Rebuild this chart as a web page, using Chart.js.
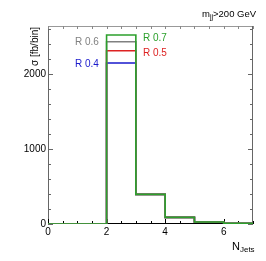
<!DOCTYPE html>
<html>
<head>
<meta charset="utf-8">
<script src="https://cdn.jsdelivr.net/npm/chart.js@4"></script>
<style>
  body { margin: 0; background: #fff; }
  #wrap { width: 266px; height: 261px; }
</style>
</head>
<body>
<div id="wrap"><canvas id="chartCanvas" width="266" height="261"></canvas></div>
<script>
// bin edges of N_jets and cross sections per bin [fb/bin]
const binEdges = [0, 1, 2, 3, 4, 5, 6, 7];
const r07 = [0, 0, 2520, 395, 88, 27, 8];
const r06 = [0, 0, 2431, 395, 88, 27, 8];
const r05 = [0, 0, 2311, 395, 88, 27, 8];
const r04 = [0, 0, 2147, 395, 88, 27, 8];
const xTickLabels = [0, 2, 4, 6];
const yTickLabels = [0, 1000, 2000];

function histPoints(vals) {
    // one point per lower bin edge plus the upper edge of the last bin
    return binEdges.map((x, i) => ({ x: x, y: vals[Math.min(i, vals.length - 1)] }));
}

const FONT = "'Liberation Sans', Arial, sans-serif";

// frame with inward ticks (ROOT style), drawn from the chart scales
const framePlugin = {
    id: "frame",
    beforeDatasetsDraw(chart) {
        const ctx = chart.ctx;
        const a = chart.chartArea;
        const xs = chart.scales.x, ys = chart.scales.y;
        ctx.save();
        ctx.lineWidth = 1;

        ctx.strokeStyle = "#999";
        ctx.beginPath(); ctx.moveTo(a.left, a.top + 0.5); ctx.lineTo(a.right, a.top + 0.5); ctx.stroke();
        ctx.strokeStyle = "#666";
        ctx.beginPath(); ctx.moveTo(a.left + 0.5, a.top); ctx.lineTo(a.left + 0.5, a.bottom); ctx.stroke();
        ctx.beginPath(); ctx.moveTo(a.right - 0.5, a.top); ctx.lineTo(a.right - 0.5, a.bottom); ctx.stroke();

        // y ticks every 200, long at labelled values
        for (let v = 0; v <= ys.max; v += 200) {
            const y = Math.round(ys.getPixelForValue(v)) + 0.5;
            const len = yTickLabels.includes(v) ? 5 : 3;
            ctx.beginPath();
            ctx.moveTo(a.left, y); ctx.lineTo(a.left + len, y);
            ctx.moveTo(a.right, y); ctx.lineTo(a.right - len, y);
            ctx.stroke();
        }
        // x ticks every 0.5
        for (let v = 0; v <= xs.max; v += 0.5) {
            const x = Math.round(xs.getPixelForValue(v)) + 0.5;
            const len = xTickLabels.includes(v) ? 5 : 3;
            ctx.beginPath();
            ctx.strokeStyle = "#000";
            ctx.moveTo(x, a.bottom); ctx.lineTo(x, a.bottom - len);
            ctx.stroke();
            ctx.beginPath();
            ctx.strokeStyle = "#888";
            ctx.moveTo(x, a.top); ctx.lineTo(x, a.top + 3);
            ctx.stroke();
        }
        ctx.strokeStyle = "#000";
        ctx.beginPath(); ctx.moveTo(a.left, a.bottom - 0.5); ctx.lineTo(a.right, a.bottom - 0.5); ctx.stroke();
        ctx.restore();
    },
    afterDraw(chart) {
        const ctx = chart.ctx;
        ctx.save();
        ctx.textBaseline = "middle";
        ctx.font = "10px " + FONT;
        const labels = [
            ["R 0.6", "#808080", 75, 42],
            ["R 0.7", "#2ca02c", 143, 38],
            ["R 0.5", "#dd2222", 143, 53.5],
            ["R 0.4", "#1a1acc", 75, 64]
        ];
        labels.forEach(([t, c, x, y]) => { ctx.fillStyle = c; ctx.fillText(t, x, y); });

        ctx.fillStyle = "#000";
        ctx.textBaseline = "alphabetic";
        // m_jj > 200 GeV
        let x = 202;
        ctx.font = "9.5px " + FONT;
        ctx.fillText("m", x, 17); x += ctx.measureText("m").width;
        ctx.font = "7px " + FONT;
        ctx.fillText("jj", x, 19); x += ctx.measureText("jj").width;
        ctx.font = "9.5px " + FONT;
        ctx.fillText(">200 GeV", x, 17);

        // N_Jets
        x = 232;
        ctx.font = "11px " + FONT;
        ctx.fillText("N", x, 250); x += ctx.measureText("N").width;
        ctx.font = "8px " + FONT;
        ctx.fillText("Jets", x, 252);

        // y axis title
        ctx.save();
        ctx.translate(38, 27);
        ctx.rotate(-Math.PI / 2);
        ctx.font = "10px " + FONT;
        ctx.textAlign = "right";
        ctx.fillText("\u03c3 [fb/bin]", 0, 0);
        ctx.restore();
        ctx.restore();
    }
};

const ctx = document.getElementById("chartCanvas").getContext("2d");
const chart = new Chart(ctx, {
    type: "line",
    data: {
        datasets: [
            { label: "R 0.7", data: histPoints(r07), borderColor: "#2ca02c" },
            { label: "R 0.6", data: histPoints(r06), borderColor: "#808080" },
            { label: "R 0.5", data: histPoints(r05), borderColor: "#dd2222" },
            { label: "R 0.4", data: histPoints(r04), borderColor: "#1a1acc" }
        ].map(d => Object.assign(d, {
            stepped: "before",
            borderWidth: 1.6,
            pointRadius: 0,
            fill: false,
            tension: 0
        }))
    },
    options: {
        responsive: false,
        animation: false,
        devicePixelRatio: 1,
        layout: { padding: { top: 26, right: 13, left: 0, bottom: 0 } },
        plugins: { legend: { display: false }, tooltip: { enabled: false } },
        scales: {
            x: {
                type: "linear",
                min: 0,
                max: 7,
                grid: { display: false, drawTicks: false },
                border: { display: false },
                afterBuildTicks: s => { s.ticks = xTickLabels.map(v => ({ value: v })); },
                afterFit: s => { s.height = 37; },
                ticks: { color: "#000", font: { family: FONT, size: 10 }, padding: 2, maxRotation: 0,
                         callback: v => String(v) }
            },
            y: {
                min: 0,
                max: 2640,
                grid: { display: false, drawTicks: false },
                border: { display: false },
                afterBuildTicks: s => { s.ticks = yTickLabels.map(v => ({ value: v })); },
                afterFit: s => { s.width = 48; },
                ticks: { color: "#000", font: { family: FONT, size: 10 }, padding: 2,
                         callback: v => String(v) }
            }
        }
    },
    plugins: [framePlugin]
});
</script>
</body>
</html>
